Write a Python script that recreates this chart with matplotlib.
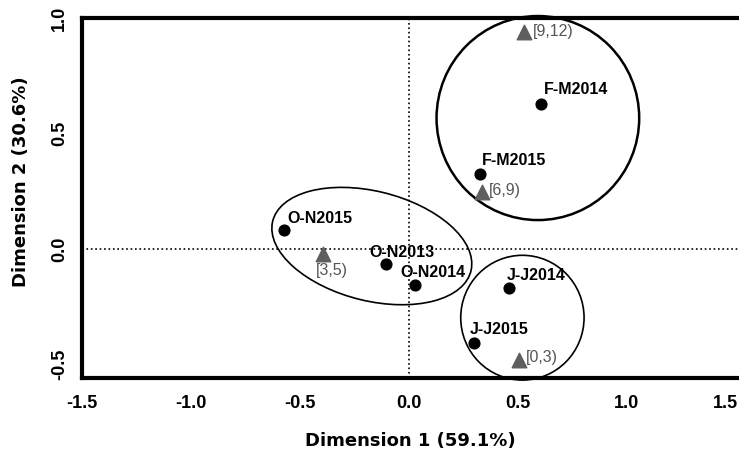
import numpy as np
import matplotlib
matplotlib.use("Agg")
import matplotlib.pyplot as plt
from matplotlib.patches import Ellipse
from matplotlib.transforms import ScaledTranslation

# periods (black dots)
period_names = ["O-N2013", "O-N2014", "O-N2015", "F-M2014", "F-M2015", "J-J2014", "J-J2015"]
period_x = [-0.106, 0.028, -0.573, 0.606, 0.326, 0.459, 0.298]
period_y = [-0.066, -0.156, 0.082, 0.628, 0.325, -0.169, -0.407]

# age classes (grey triangles)
class_names = ["[0,3)", "[3,5)", "[6,9)", "[9,12)"]
class_x = [0.505, -0.395, 0.335, 0.528]
class_y = [-0.481, -0.023, 0.247, 0.94]

# group outlines: centre x, centre y, width, height, angle
group_cx = [0.592, 0.521, -0.17]
group_cy = [0.567, -0.297, 0.013]
group_w = [0.93, 0.566, 0.935]
group_h = [0.883, 0.54, 0.475]
group_angle = [0, 0, -12.9]
group_lw = [1.8, 1.2, 1.2]

xticks = [-1.5, -1.0, -0.5, 0.0, 0.5, 1.0, 1.5]
yticks = [-0.5, 0.0, 0.5, 1.0]

# label offsets in pixels
period_off = [(-16, 12), (-15, 13), (3, 12), (3, 14), (2, 13), (-2, 13), (-4, 14)]
class_off = [(7, 3), (9, -16), (7, 1), (9, 0)]
class_ha = ["left", "center", "left", "left"]

fig = plt.figure(figsize=(7.39, 4.5), dpi=100)
ax = fig.add_axes([82 / 739, 72 / 450, 657 / 739, 360 / 450])

ax.axhline(0, color="black", ls=":", lw=1.2, zorder=1)
ax.axvline(0, color="black", ls=":", lw=1.2, zorder=1)

for cx, cy, w, h, a, lw in zip(group_cx, group_cy, group_w, group_h, group_angle, group_lw):
    ax.add_patch(Ellipse((cx, cy), w, h, angle=a, fill=False, ec="black", lw=lw,
                         clip_on=False, zorder=2))

ax.scatter(period_x, period_y, s=60, color="black", zorder=3, clip_on=False)
ax.scatter(class_x, class_y, s=110, marker="^", color="#5f5f5f", zorder=3, clip_on=False)

for name, x, y, off in zip(period_names, period_x, period_y, period_off):
    ax.annotate(name, (x, y), xytext=off, textcoords="offset pixels",
                ha="left", va="center", fontsize=11.5, fontweight="bold",
                family="Liberation Sans", color="black", zorder=4)

for name, x, y, off, ha in zip(class_names, class_x, class_y, class_off, class_ha):
    ax.annotate(name, (x, y), xytext=off, textcoords="offset pixels",
                ha=ha, va="center", fontsize=11.5, family="Liberation Sans",
                color="#555555", zorder=4)

ax.set_xlim(-1.5, 1.515)
ax.set_ylim(-0.558, 1.0)
ax.set_xticks(xticks)
ax.set_yticks(yticks)
ax.set_xticklabels([f"{t:.1f}" for t in xticks], fontsize=13, fontweight="bold",
                   family="Liberation Sans")
ax.set_yticklabels([f"{t:.1f}" for t in yticks], fontsize=13, fontweight="bold",
                   family="Liberation Sans", rotation=90, va="center")
ax.tick_params(axis="both", length=0)
ax.tick_params(axis="x", pad=12)
ax.tick_params(axis="y", pad=10)

# keep the last x label inside the figure
last = ax.get_xticklabels()[-1]
last.set_horizontalalignment("right")
last.set_transform(last.get_transform() + ScaledTranslation(0.02, 0, fig.dpi_scale_trans))

for side in ["top", "bottom", "left"]:
    ax.spines[side].set_linewidth(3)
ax.spines["right"].set_visible(False)

ax.set_xlabel("Dimension 1 (59.1%)", fontsize=13, fontweight="bold", va="center")
ax.set_ylabel("Dimension 2 (30.6%)", fontsize=13, fontweight="bold", va="center")
ax.xaxis.set_label_coords(0.499, -0.175)
ax.yaxis.set_label_coords(-0.093, 0.544)

fig.savefig("out.png", dpi=100)
